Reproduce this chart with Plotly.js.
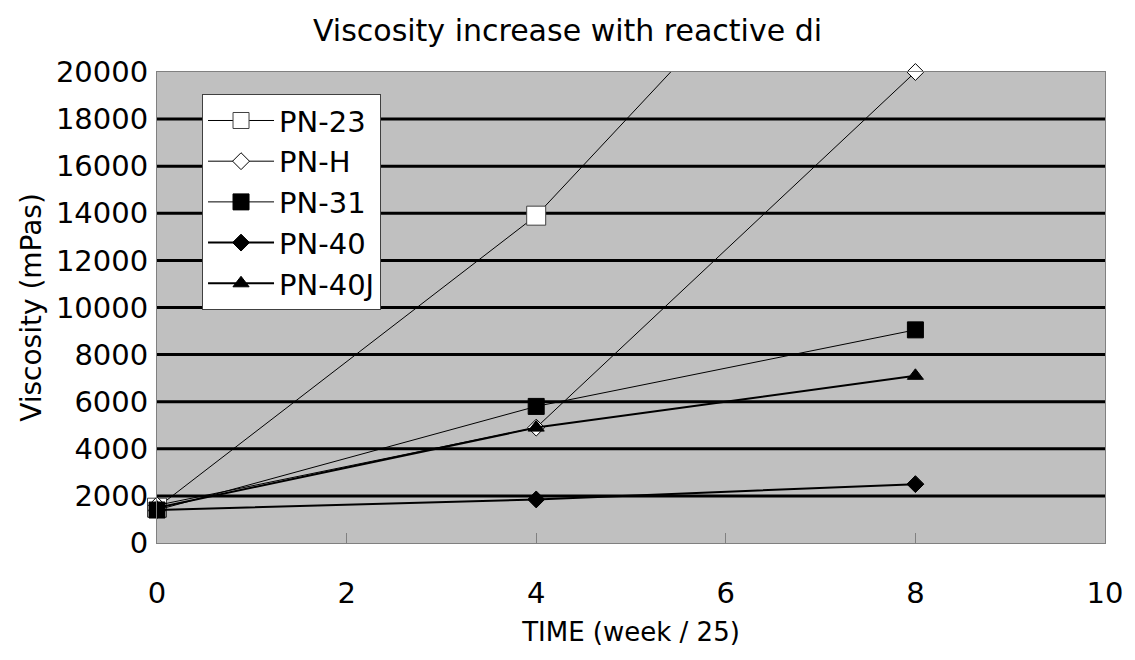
<!DOCTYPE html>
<html>
<head>
<meta charset="utf-8">
<script src="https://cdn.plot.ly/plotly-3.0.1.min.js"></script>
<style>html,body{margin:0;padding:0;background:#fff;}#chart{width:1135px;height:660px;}</style>
</head>
<body>
<div id="chart"></div>
<script>
// ---- data ----
const weeks = [0, 4, 8];
const seriesNames = ["PN-23", "PN-H", "PN-31", "PN-40", "PN-40J"];
const pn23  = [1500, 13900, 31100];
const pnH   = [1600, 4900, 20000];
const pn31  = [1400, 5800, 9050];
const pn40  = [1400, 1850, 2500];
const pn40J = [1500, 4900, 7100];
const gridValues = [2000, 4000, 6000, 8000, 10000, 12000, 14000, 16000, 18000];
const xTicks = [0, 2, 4, 6, 8, 10];
const yTicks = [0, 2000, 4000, 6000, 8000, 10000, 12000, 14000, 16000, 18000, 20000];

const FONT = '"DejaVu Sans", Verdana, sans-serif';

function trace(name, y, symbol, size, fill, outline, lw) {
  return {
    x: weeks, y: y, name: name, type: 'scatter', mode: 'lines+markers',
    legendgroup: name, cliponaxis: false,
    line: {color: '#000', width: lw},
    marker: {symbol: symbol, size: size, color: fill, line: {color: outline, width: 1}}
  };
}

const data = [
  trace(seriesNames[0], pn23, 'square', 19, '#fff', '#404040', 1),
  trace(seriesNames[1], pnH, 'diamond', 13, '#fff', '#000', 1),
  trace(seriesNames[2], pn31, 'square', 16, '#000', '#000', 1),
  trace(seriesNames[3], pn40, 'diamond', 13, '#000', '#000', 2),
  trace(seriesNames[4], pn40J, 'triangle-up', 14, '#000', '#000', 2)
];

const shapes = gridValues.map(v => ({
  type: 'line', xref: 'paper', yref: 'y', x0: 0, x1: 1, y0: v, y1: v,
  line: {color: '#000', width: 3}, layer: 'below'
}));

const layout = {
  width: 1135, height: 660,
  margin: {l: 157, r: 30, t: 72, b: 117},
  paper_bgcolor: '#fff', plot_bgcolor: '#c0c0c0',
  font: {family: FONT, size: 29, color: '#000'},
  title: {text: 'Viscosity increase with reactive di', x: 0.5, xref: 'container', xanchor: 'center',
          y: 1 - 30/660, yref: 'container', yanchor: 'middle', font: {family: FONT, size: 30, color: '#000'}},
  showlegend: true,
  legend: {x: 0.0475, y: 0.953, xanchor: 'left', yanchor: 'top', bgcolor: '#fff',
           bordercolor: '#404040', borderwidth: 1, traceorder: 'grouped', tracegroupgap: 0,
           itemwidth: 66,
           font: {family: FONT, size: 29, color: '#000'}},
  xaxis: {range: [0, 10], tickvals: xTicks, ticktext: xTicks.map(String), showgrid: false, zeroline: false,
          showline: true, linecolor: '#808080', linewidth: 1, mirror: true,
          ticks: 'inside', ticklen: 10, tickcolor: '#808080', ticklabelstandoff: 24,
          tickfont: {family: FONT, size: 29, color: '#000'},
          title: {text: 'TIME (week / 25)', standoff: 14, font: {family: FONT, size: 26, color: '#000'}}},
  yaxis: {range: [0, 20000], tickvals: yTicks, ticktext: yTicks.map(String), showgrid: false, zeroline: false,
          showline: true, linecolor: '#808080', linewidth: 1, mirror: true,
          ticks: '', ticklabelstandoff: 2,
          tickfont: {family: FONT, size: 29, color: '#000'},
          title: {text: 'Viscosity (mPas)', standoff: 6, font: {family: FONT, size: 28, color: '#000'}}},
  shapes: shapes
};

Plotly.newPlot('chart', data, layout, {displayModeBar: false, staticPlot: true});
</script>
</body>
</html>
